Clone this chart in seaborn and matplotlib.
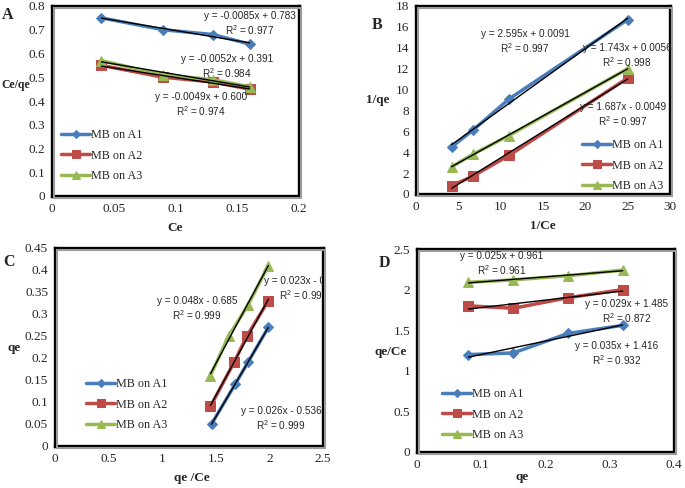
import numpy as np
import matplotlib
matplotlib.use("Agg")
import matplotlib.pyplot as plt
from matplotlib.patches import Rectangle
import seaborn as sns

# data
series = ["MB on A1", "MB on A2", "MB on A3"]

a_x = [0.04, 0.09, 0.13, 0.16]
a_y1 = [0.75, 0.70, 0.68, 0.64]
a_y2 = [0.55, 0.50, 0.48, 0.45]
a_y3 = [0.57, 0.51, 0.49, 0.46]

b_x = [4.2, 6.7, 11.0, 25.0]
b_y1 = [4.5, 6.1, 9.1, 16.7]
b_y2 = [0.8, 1.7, 3.7, 11.1]
b_y3 = [2.6, 3.8, 5.6, 12.0]

c_x1 = [1.46, 1.68, 1.80, 1.99]
c_y1 = [0.05, 0.14, 0.19, 0.27]
c_x2 = [1.45, 1.67, 1.79, 1.99]
c_y2 = [0.09, 0.19, 0.25, 0.33]
c_x3 = [1.45, 1.62, 1.80, 1.99]
c_y3 = [0.16, 0.25, 0.32, 0.41]

d_x = [0.08, 0.15, 0.235, 0.32]
d_y1 = [1.20, 1.22, 1.46, 1.56]
d_y2 = [1.80, 1.77, 1.90, 2.00]
d_y3 = [2.09, 2.12, 2.17, 2.24]

eq_a = ["y = -0.0085x + 0.783\nR$^2$ = 0.977", "y = -0.0052x + 0.391\nR$^2$ = 0.984", "y = -0.0049x + 0.600\nR$^2$ = 0.974"]
eq_b = ["y = 2.595x + 0.0091\nR$^2$ = 0.997", "y = 1.743x + 0.0056\nR$^2$ = 0.998", "y = 1.687x - 0.0049\nR$^2$ = 0.997"]
eq_c = ["y = 0.048x - 0.685\nR$^2$ = 0.999", "y = 0.023x - 0.507\nR$^2$ = 0.999", "y = 0.026x - 0.536\nR$^2$ = 0.999"]
eq_d = ["y = 0.025x + 0.961\nR$^2$ = 0.961", "y = 0.029x + 1.485\nR$^2$ = 0.872", "y = 0.035x + 1.416\nR$^2$ = 0.932"]

sns.set_style("white")
plt.rcParams['font.family'] = ['Liberation Serif', 'DejaVu Serif']
plt.rcParams['mathtext.fontset'] = 'custom'
plt.rcParams['mathtext.rm'] = 'Liberation Sans'

W, H = 685, 488
colors = ["#4A7EBB", "#BE4B48", "#98B954"]
markers = ["D", "s", "^"]
msizes = [5, 7, 6.5]

fig = plt.figure(figsize=(W / 100, H / 100), dpi=100)


def rect(l, t, r, b):
    return [l / W, 1 - b / H, (r - l) / W, (b - t) / H]


def fp(x, y):
    return (x / W, 1 - y / H)


def panel(box, xs, ys, xlim, xticks, ylim, yticks, xfmt, yfmt):
    l, t, r, b = box
    # soft grey shadow of the plot frame
    fig.patches.append(Rectangle(fp(l + 2, b + 2), (r - l) / W, (b - t) / H,
                                 transform=fig.transFigure, fill=False,
                                 edgecolor="#9a9a9a", linewidth=1.5, zorder=0))
    ax = fig.add_axes(rect(*box))
    for i in range(3):
        sns.lineplot(x=xs[i], y=ys[i], ax=ax, color=colors[i], marker=markers[i],
                     markersize=msizes[i], markeredgecolor=colors[i], linewidth=2.5,
                     sort=False, label=series[i], zorder=2)
    for i in range(3):
        k, c = np.polyfit(xs[i], ys[i], 1)
        fx = np.array([min(xs[i]), max(xs[i])])
        ax.plot(fx, k * fx + c, color="black", linewidth=1, zorder=3)
    ax.set_xlim(*xlim)
    ax.set_ylim(*ylim)
    ax.set_xticks(xticks)
    ax.set_yticks(yticks)
    ax.set_xticklabels([xfmt(v) for v in xticks])
    ax.set_yticklabels([yfmt(v) for v in yticks])
    ax.tick_params(length=0, labelsize=9.5, pad=5)
    for s in ax.spines.values():
        s.set_color("black")
        s.set_linewidth(2.4)
    ax.set_xlabel("")
    ax.set_ylabel("")
    return ax


def legend(ax, x, y):
    ax.legend(loc="upper left", bbox_to_anchor=fp(x, y), bbox_transform=fig.transFigure,
              frameon=False, fontsize=8.7, handlelength=2.4, handletextpad=0.1,
              labelspacing=0.72, borderpad=0, borderaxespad=0, markerscale=0.8)


def g(v):
    return "%g" % v


axA = panel((52, 6, 299, 196), [a_x] * 3, [a_y1, a_y2, a_y3], (0, 0.2),
            [0, 0.05, 0.1, 0.15, 0.2], (0, 0.8), np.arange(0, 0.81, 0.1), g, lambda v: "%g" % round(v, 1))
legend(axA, 61, 129)

axB = panel((416, 6, 670, 194), [b_x] * 3, [b_y1, b_y2, b_y3], (0, 30),
            [0, 5, 10, 15, 20, 25, 30], (0, 18), range(0, 19, 2), g, g)
legend(axB, 582, 139)

axC = panel((55, 248, 323, 446), [c_x1, c_x2, c_x3], [c_y1, c_y2, c_y3], (0, 2.5),
            [0, 0.5, 1, 1.5, 2, 2.5], (0, 0.45), np.arange(0, 0.451, 0.05), g, lambda v: "%g" % round(v, 2))
legend(axC, 86, 378)

axD = panel((417, 249, 674, 452), [d_x] * 3, [d_y1, d_y2, d_y3], (0, 0.4),
            [0, 0.1, 0.2, 0.3, 0.4], (0, 2.5), [0, 0.5, 1, 1.5, 2, 2.5], g, g)
legend(axD, 442, 388)

# trend line equations
eqkw = dict(ha="center", va="center", fontsize=7.2, family="Liberation Sans", linespacing=1.25)
for txt, (x, y) in zip(eq_a, [(250, 24), (227, 67), (201, 105)]):
    fig.text(*fp(x, y), txt, **eqkw)
for txt, (x, y) in zip(eq_b, [(525, 42), (627, 56), (623, 115)]):
    fig.text(*fp(x, y), txt, **eqkw)
for txt, (x, y) in zip(eq_c, [(197, 309), (304, 289), (281, 419)]):
    axC.text(*fp(x, y), txt, transform=fig.transFigure, clip_on=True, **eqkw)
for txt, (x, y) in zip(eq_d, [(502, 264), (627, 312), (617, 354)]):
    fig.text(*fp(x, y), txt, **eqkw)

# panel letters and axis titles
lab = dict(ha="center", va="center", fontweight="bold")
fig.text(*fp(8, 15), "A", fontsize=11.5, **lab)
fig.text(*fp(377, 25), "B", fontsize=11.5, **lab)
fig.text(*fp(9, 262), "C", fontsize=11.5, **lab)
fig.text(*fp(384, 263), "D", fontsize=11.5, **lab)

fig.text(*fp(1, 85), "Ce/qe", fontsize=8.5, ha="left", va="center", fontweight="bold")
fig.text(*fp(175, 228), "Ce", fontsize=9.5, **lab)
fig.text(*fp(378, 100), "1/qe", fontsize=9.5, **lab)
fig.text(*fp(543, 226), "1/Ce", fontsize=9.5, **lab)
fig.text(*fp(14, 348), "qe", fontsize=9.5, **lab)
fig.text(*fp(192, 478), "qe /Ce", fontsize=9.5, **lab)
fig.text(*fp(391, 352), "qe/Ce", fontsize=9.5, **lab)
fig.text(*fp(522, 477), "qe", fontsize=9.5, **lab)

fig.savefig("out.png", dpi=100)
